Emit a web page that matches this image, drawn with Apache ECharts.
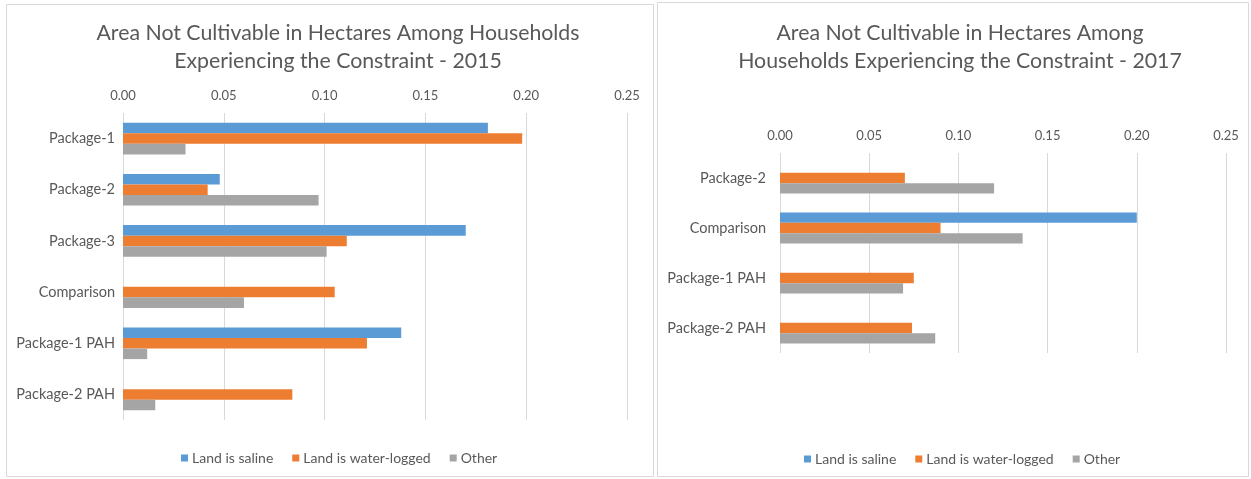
<!DOCTYPE html>
<html>
<head>
<meta charset="utf-8">
<script src="https://cdn.jsdelivr.net/npm/echarts@6/dist/echarts.min.js"></script>
<style>
html,body{margin:0;padding:0;background:#fff;}
#c{width:1251px;height:479px;}
</style>
</head>
<body>
<div id="c"></div>
<script>
// ---- data ----
const seriesNames = ['Land is saline', 'Land is water-logged', 'Other'];
const xTicks = [0, 0.05, 0.10, 0.15, 0.20, 0.25];

const categories2015 = ['Package-1', 'Package-2', 'Package-3', 'Comparison', 'Package-1 PAH', 'Package-2 PAH'];
const saline2015 = [0.181, 0.048, 0.170, null, 0.138, null];
const waterlogged2015 = [0.198, 0.042, 0.111, 0.105, 0.121, 0.084];
const other2015 = [0.031, 0.097, 0.101, 0.060, 0.012, 0.016];

const categories2017 = ['Package-2', 'Comparison', 'Package-1 PAH', 'Package-2 PAH'];
const saline2017 = [null, 0.200, null, null];
const waterlogged2017 = [0.070, 0.090, 0.075, 0.074];
const other2017 = [0.120, 0.136, 0.069, 0.087];

const title2015 = 'Area Not Cultivable in Hectares Among Households\nExperiencing the Constraint - 2015';
const title2017 = 'Area Not Cultivable in Hectares Among\nHouseholds Experiencing the Constraint - 2017';

// ---- styles ----
const FONT = 'Lato';
const TXT = '#595959';
const GRID = '#D9D9D9';
const colors = ['#5B9BD5', '#ED7D31', '#A5A5A5'];

function xAxisCfg(gridIndex) {
  return {
    type: 'value', gridIndex: gridIndex, position: 'top',
    min: xTicks[0], max: xTicks[xTicks.length - 1], interval: xTicks[1] - xTicks[0],
    axisLine: {show: false}, axisTick: {show: false},
    axisLabel: {color: TXT, fontFamily: FONT, fontSize: 13, margin: 11,
      formatter: v => v.toFixed(2)},
    splitLine: {show: true, lineStyle: {color: GRID, width: 1}}
  };
}
function yAxisCfg(gridIndex, cats, margin) {
  return {
    type: 'category', gridIndex: gridIndex, data: cats, inverse: true,
    axisLine: {show: false}, axisTick: {show: false},
    axisLabel: {color: TXT, fontFamily: FONT, fontSize: 14.5, margin: margin}
  };
}
function barSeries(name, idx, data) {
  return {
    type: 'bar', name: name, xAxisIndex: idx, yAxisIndex: idx, data: data,
    barCategoryGap: '38%', barGap: '0%', silent: true,
    itemStyle: {color: colors[seriesNames.indexOf(name)]}
  };
}
function legendCfg(left, top) {
  return {
    data: seriesNames, left: left, top: top, icon: 'rect',
    itemWidth: 7, itemHeight: 7, itemGap: 19,
    textStyle: {color: TXT, fontFamily: FONT, fontSize: 14, padding: [0, 0, 0, -1]},
    selectedMode: false
  };
}

const chart = echarts.init(document.getElementById('c'), null, {renderer: 'canvas'});
chart.setOption({
  animation: false,
  backgroundColor: '#fff',
  color: colors,
  graphic: [
    {type: 'rect', shape: {x: 6.5, y: 4.5, width: 647, height: 472},
      style: {fill: 'none', stroke: GRID, lineWidth: 1}, silent: true},
    {type: 'rect', shape: {x: 657.5, y: 2.5, width: 591, height: 474},
      style: {fill: 'none', stroke: GRID, lineWidth: 1}, silent: true}
  ],
  title: [
    {text: title2015, left: 333, top: 14, textAlign: 'center',
      textStyle: {color: TXT, fontFamily: FONT, fontSize: 21.3, fontWeight: 'normal', lineHeight: 28}},
    {text: title2017, left: 955, top: 14, textAlign: 'center',
      textStyle: {color: TXT, fontFamily: FONT, fontSize: 21.3, fontWeight: 'normal', lineHeight: 28}}
  ],
  legend: [legendCfg(176, 446), legendCfg(799, 447)],
  grid: [
    {left: 123, top: 113, width: 504, height: 307, containLabel: false},
    {left: 780, top: 153, width: 446, height: 200, containLabel: false}
  ],
  xAxis: [xAxisCfg(0), xAxisCfg(1)],
  yAxis: [yAxisCfg(0, categories2015, 8), yAxisCfg(1, categories2017, 14)],
  series: [
    barSeries('Land is saline', 0, saline2015),
    barSeries('Land is water-logged', 0, waterlogged2015),
    barSeries('Other', 0, other2015),
    barSeries('Land is saline', 1, saline2017),
    barSeries('Land is water-logged', 1, waterlogged2017),
    barSeries('Other', 1, other2017)
  ]
});
</script>
</body>
</html>
